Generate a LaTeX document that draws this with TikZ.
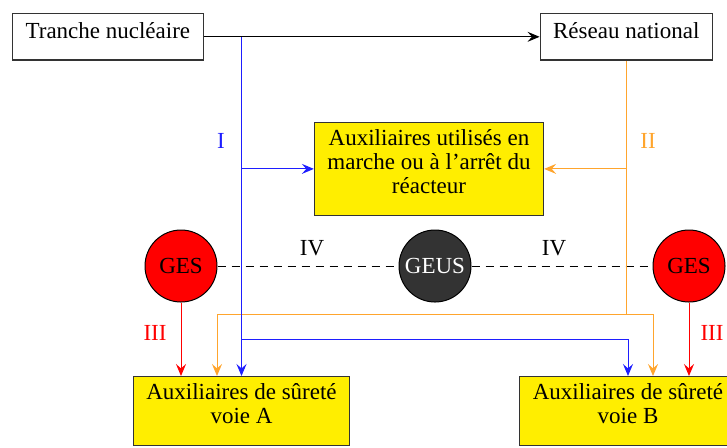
\documentclass[tikz,border=0pt]{standalone}
\usepackage{fontspec}
\setmainfont{Liberation Serif}
\usetikzlibrary{arrows.meta}
\definecolor{jaune}{RGB}{255,238,0}
\definecolor{orangec}{RGB}{255,165,45}
\definecolor{bleu}{RGB}{30,30,255}
\definecolor{gris}{RGB}{51,51,51}
\tikzset{
  boite/.style={draw=black!80, line width=0.6pt, inner xsep=6.5pt, inner ysep=3.4pt, align=center,
    execute at begin node={\rule{0pt}{8.9pt}}, execute at end node={\rule[-7.5pt]{0pt}{7.5pt}}},
  aux/.style={boite, fill=jaune},
  gen/.style={circle, draw, line width=0.5pt, minimum size=36pt, inner sep=0pt},
  fleche/.style={-{Stealth[length=6pt,width=5pt,inset=2.2pt]}, line width=0.5pt},
}
\begin{document}
\begin{tikzpicture}[x=0.5pt,y=-0.5pt,font=\fontsize{11.5}{12}\selectfont]
    \useasboundingbox (0,0) rectangle (727,447);
    % 方框
    \node[boite, anchor=north west] (tranche) at (12,13) {Tranche nucléaire};
    \node[boite, anchor=north east] (reseau) at (713,13) {Réseau national};
    \node[aux, anchor=north] (aux) at (429,122) {Auxiliaires utilisés en\\marche ou à l’arrêt du\\réacteur};
    \node[aux, anchor=north] (voieA) at (241.5,376) {Auxiliaires de sûreté\\voie A};
    \node[aux, anchor=north] (voieB) at (628,376) {Auxiliaires de sûreté\\voie B};
    % 电源
    \node[gen, fill=red] (gesA) at (181,266) {GES};
    \node[gen, fill=gris, text=white] (geus) at (435,266) {GEUS};
    \node[gen, fill=red] (gesB) at (689,266) {GES};
    \draw[dash pattern=on 4pt off 3pt, line width=0.5pt] (gesA) -- (geus) -- (gesB);

    \draw[fleche] (tranche) -- (reseau);
    % II
    \coordinate (kII) at (reseau.south |- 0,314);
    \draw[orangec, line width=0.5pt] (reseau.south) -- (kII);
    \draw[orangec, fleche] (reseau.south |- aux.east) -- (aux.east);
    \draw[orangec, fleche] (kII) -| ([xshift=-12.25pt]voieA.north);
    \draw[orangec, fleche] (kII) -| ([xshift=12.5pt]voieB.north);
    % I
    \coordinate (jI) at (tranche.east -| voieA.north);
    \coordinate (jB) at (voieA.north |- 0,339);
    \draw[bleu, fleche] (jI) -- (voieA.north);
    \draw[bleu, fleche] (jI |- aux.west) -- (aux.west);
    \draw[bleu, fleche] (jB) -| (voieB.north);
    % III
    \draw[red, fleche] (gesA) -- (gesA |- voieA.north);
    \draw[red, fleche] (gesB) -- (gesB |- voieB.north);

    \node[text=bleu] (lI) at (221,141) {I};
    \node[text=orangec] (lII) at (648,141) {II};
    \node (lIVa) at (312,248) {IV};
    \node (lIVb) at (554,248) {IV};
    \node[text=red] (lIIIa) at (155,333) {III};
    \node[text=red] (lIIIb) at (712,333) {III};
\end{tikzpicture}
\end{document}
